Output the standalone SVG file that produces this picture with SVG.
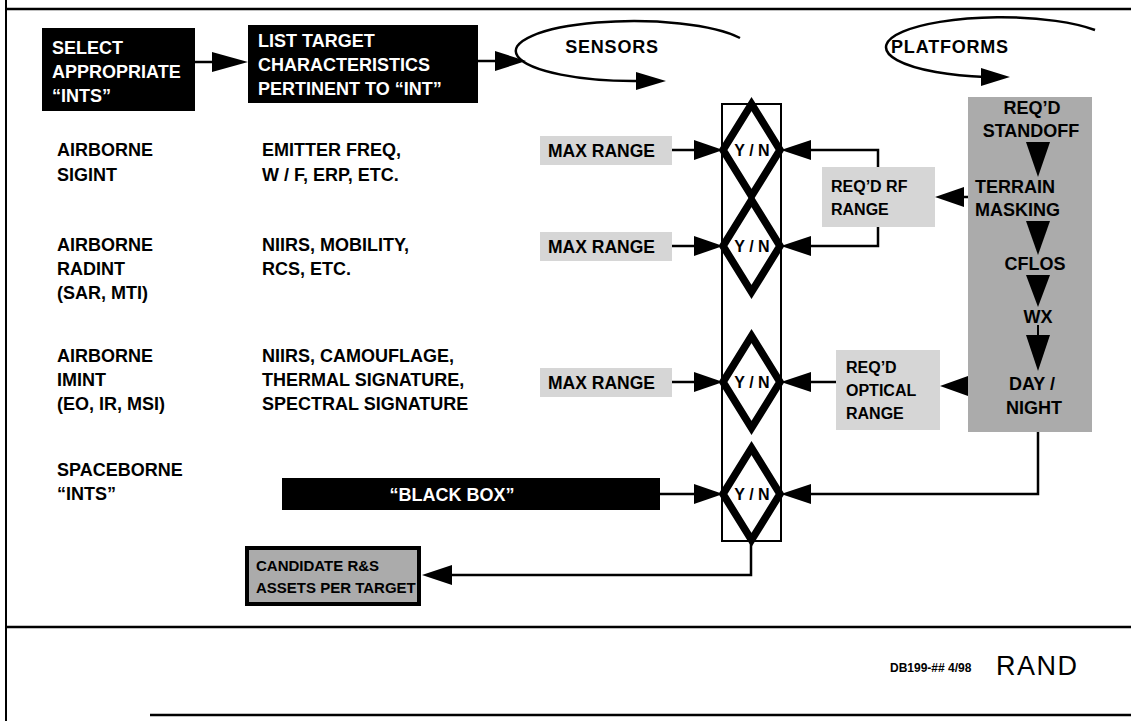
<svg xmlns="http://www.w3.org/2000/svg" width="1131" height="721" viewBox="0 0 1131 721">
<defs>
<style>
.t{font-family:"Liberation Sans",Arial,Helvetica,sans-serif;font-weight:bold;font-size:18px;fill:#000}
.w{fill:#fff}
.s{font-size:16px}
.m{font-size:17.5px}
.c{font-size:15px}
.blk{fill:#000}
.lg{fill:#d6d6d6}
.dg{fill:#ababab}
.ln{fill:none;stroke:#000;stroke-width:2.5}
.th{fill:none;stroke:#000;stroke-width:2}
.dm{fill:#fff;stroke:#000;stroke-width:7.5;stroke-linejoin:miter}
.ah{fill:#000}
</style>
</defs>
<rect width="1131" height="721" fill="#fff"/>
<g id="frame">
<line x1="6" y1="9" x2="1131" y2="9" class="ln" stroke-width="3"/>
<line x1="6" y1="0" x2="6" y2="721" class="th"/>
<line x1="6" y1="627" x2="1131" y2="627" class="ln" stroke-width="3"/>
<line x1="150" y1="715" x2="1131" y2="715" class="ln"/>
</g>
<g id="connectors">
<line x1="195" y1="62" x2="214" y2="62" class="ln" stroke-width="3"/>
<polygon points="212,52 248,62 212,72" class="ah"/>
<line x1="478" y1="61" x2="497" y2="61" class="ln" stroke-width="3"/>
<polygon points="495,51 526,61 495,71" class="ah"/>
<path d="M 740 38 A 118 30 0 1 0 640 81" class="ln"/>
<polygon points="636,72 666,81 636,90" class="ah"/>
<path d="M 1095 30 A 115 30 0 1 0 985 77" class="ln"/>
<polygon points="981,68 1010,77 981,86" class="ah"/>
<line x1="672" y1="150" x2="696" y2="150" class="ln" stroke-width="3"/>
<polygon points="694,140 723,150 694,160" class="ah"/>
<line x1="672" y1="246" x2="696" y2="246" class="ln" stroke-width="3"/>
<polygon points="694,236 723,246 694,256" class="ah"/>
<line x1="672" y1="382" x2="696" y2="382" class="ln" stroke-width="3"/>
<polygon points="694,372 723,382 694,392" class="ah"/>
<line x1="660" y1="494" x2="696" y2="494" class="ln" stroke-width="3"/>
<polygon points="694,484 723,494 694,504" class="ah"/>
<polyline points="808,150 878,150 878,167" class="ln"/>
<polygon points="811,140 781,150 811,160" class="ah"/>
<polyline points="878,227 878,246 808,246" class="ln"/>
<polygon points="811,236 781,246 811,256" class="ah"/>
<line x1="808" y1="382" x2="836" y2="382" class="ln" stroke-width="3"/>
<polygon points="811,372 781,382 811,392" class="ah"/>
<polyline points="1038,432 1038,494 808,494" class="ln"/>
<polygon points="811,484 781,494 811,504" class="ah"/>
<line x1="962" y1="197" x2="968" y2="197" class="ln" stroke-width="3"/>
<polygon points="964,187 935,197 964,207" class="ah"/>
<line x1="966" y1="386" x2="990" y2="386" class="ln" stroke-width="3"/>
<polygon points="968,376 940,386 968,396" class="ah"/>
<polyline points="751,541 751,575 450,575" class="ln"/>
<polygon points="452,565 422,575 452,585" class="ah"/>
</g>
<g id="select-ints">
<rect x="42" y="28" width="153" height="83" class="blk"/>
<text class="t w" x="52" y="54">SELECT</text>
<text class="t w" x="52" y="78">APPROPRIATE</text>
<text class="t w" x="52" y="102">“INTS”</text>
</g>
<g id="list-target">
<rect x="248" y="25" width="230" height="78" class="blk"/>
<text class="t w" x="258" y="47">LIST TARGET</text>
<text class="t w" x="258" y="71">CHARACTERISTICS</text>
<text class="t w" x="258" y="95">PERTINENT TO “INT”</text>
</g>
<g id="sensors"><text class="t" x="612" y="53" text-anchor="middle" style="letter-spacing:0.8px">SENSORS</text></g>
<g id="platforms"><text class="t" x="950" y="53" text-anchor="middle" style="letter-spacing:0.8px">PLATFORMS</text></g>
<g id="ints-list">
<text class="t" x="57" y="156">AIRBORNE</text>
<text class="t" x="57" y="181">SIGINT</text>
<text class="t" x="57" y="251">AIRBORNE</text>
<text class="t" x="57" y="275">RADINT</text>
<text class="t" x="57" y="299">(SAR, MTI)</text>
<text class="t" x="57" y="362">AIRBORNE</text>
<text class="t" x="57" y="386">IMINT</text>
<text class="t" x="57" y="410">(EO, IR, MSI)</text>
<text class="t" x="57" y="476">SPACEBORNE</text>
<text class="t" x="57" y="500">“INTS”</text>
</g>
<g id="characteristics">
<text class="t" x="262" y="156">EMITTER FREQ,</text>
<text class="t" x="262" y="181">W / F, ERP, ETC.</text>
<text class="t" x="262" y="251">NIIRS, MOBILITY,</text>
<text class="t" x="262" y="275">RCS, ETC.</text>
<text class="t" x="262" y="362">NIIRS, CAMOUFLAGE,</text>
<text class="t" x="262" y="386">THERMAL SIGNATURE,</text>
<text class="t" x="262" y="410">SPECTRAL SIGNATURE</text>
</g>
<g id="max-range-1"><rect x="540" y="136" width="132" height="29" class="lg"/><text class="t m" x="548" y="157">MAX RANGE</text></g>
<g id="max-range-2"><rect x="540" y="232" width="132" height="29" class="lg"/><text class="t m" x="548" y="253">MAX RANGE</text></g>
<g id="max-range-3"><rect x="540" y="368" width="132" height="29" class="lg"/><text class="t m" x="548" y="389">MAX RANGE</text></g>
<g id="yn-column">
<rect x="722" y="104" width="59" height="437" class="th"/>
</g>
<g id="yn-1"><polygon points="751.5,104 780,150 751.5,196 723,150" class="dm"/><text class="t s" x="752" y="156" text-anchor="middle">Y / N</text></g>
<g id="yn-2"><polygon points="751.5,200 780,246 751.5,292 723,246" class="dm"/><text class="t s" x="752" y="252" text-anchor="middle">Y / N</text></g>
<g id="yn-3"><polygon points="751.5,336 780,382 751.5,428 723,382" class="dm"/><text class="t s" x="752" y="388" text-anchor="middle">Y / N</text></g>
<g id="yn-4"><polygon points="751.5,448 780,494 751.5,540 723,494" class="dm"/><text class="t s" x="752" y="500" text-anchor="middle">Y / N</text></g>
<g id="rf-range"><rect x="822" y="167" width="113" height="60" class="lg"/><text class="t s" x="831" y="192">REQ’D RF</text><text class="t s" x="831" y="215">RANGE</text></g>
<g id="optical-range"><rect x="836" y="350" width="104" height="80" class="lg"/><text class="t s" x="846" y="373">REQ’D</text><text class="t s" x="846" y="396">OPTICAL</text><text class="t s" x="846" y="419">RANGE</text></g>
<g id="platform-steps">
<rect x="968" y="97" width="124" height="335" class="dg"/>
<text class="t" x="1032" y="114" text-anchor="middle">REQ’D</text>
<text class="t" x="1031" y="137" text-anchor="middle">STANDOFF</text>
<polygon points="1026,142 1050,142 1038,177" class="ah"/>
<text class="t" x="975" y="193">TERRAIN</text>
<text class="t" x="975" y="216">MASKING</text>
<polygon points="1026,221 1050,221 1038,255" class="ah"/>
<text class="t" x="1035" y="270" text-anchor="middle">CFLOS</text>
<polygon points="1026,275 1050,275 1038,307" class="ah"/>
<text class="t" x="1038" y="323" text-anchor="middle">WX</text>
<line x1="1038" y1="325" x2="1038" y2="337" class="th" stroke-width="1"/>
<polygon points="1026,335 1050,335 1038,371" class="ah"/>
<text class="t" x="1032" y="390" text-anchor="middle">DAY /</text>
<text class="t" x="1034" y="414" text-anchor="middle">NIGHT</text>
</g>
<g id="black-box"><rect x="282" y="478" width="378" height="32" class="blk"/><text class="t w" x="452" y="501" text-anchor="middle">“BLACK BOX”</text></g>
<g id="candidate"><rect x="247" y="548" width="172" height="56" class="dg" stroke="#000" stroke-width="4"/><text class="t c" x="256" y="571">CANDIDATE R&amp;S</text><text class="t c" x="256" y="593">ASSETS PER TARGET</text></g>
<g id="footer">
<text class="t" x="890" y="672" style="font-size:12px">DB199-##  4/98</text>
<text x="996" y="675" style="font-family:'Liberation Sans',Arial,sans-serif;font-size:27px;letter-spacing:1.5px" fill="#000">RAND</text>
</g>
</svg>
